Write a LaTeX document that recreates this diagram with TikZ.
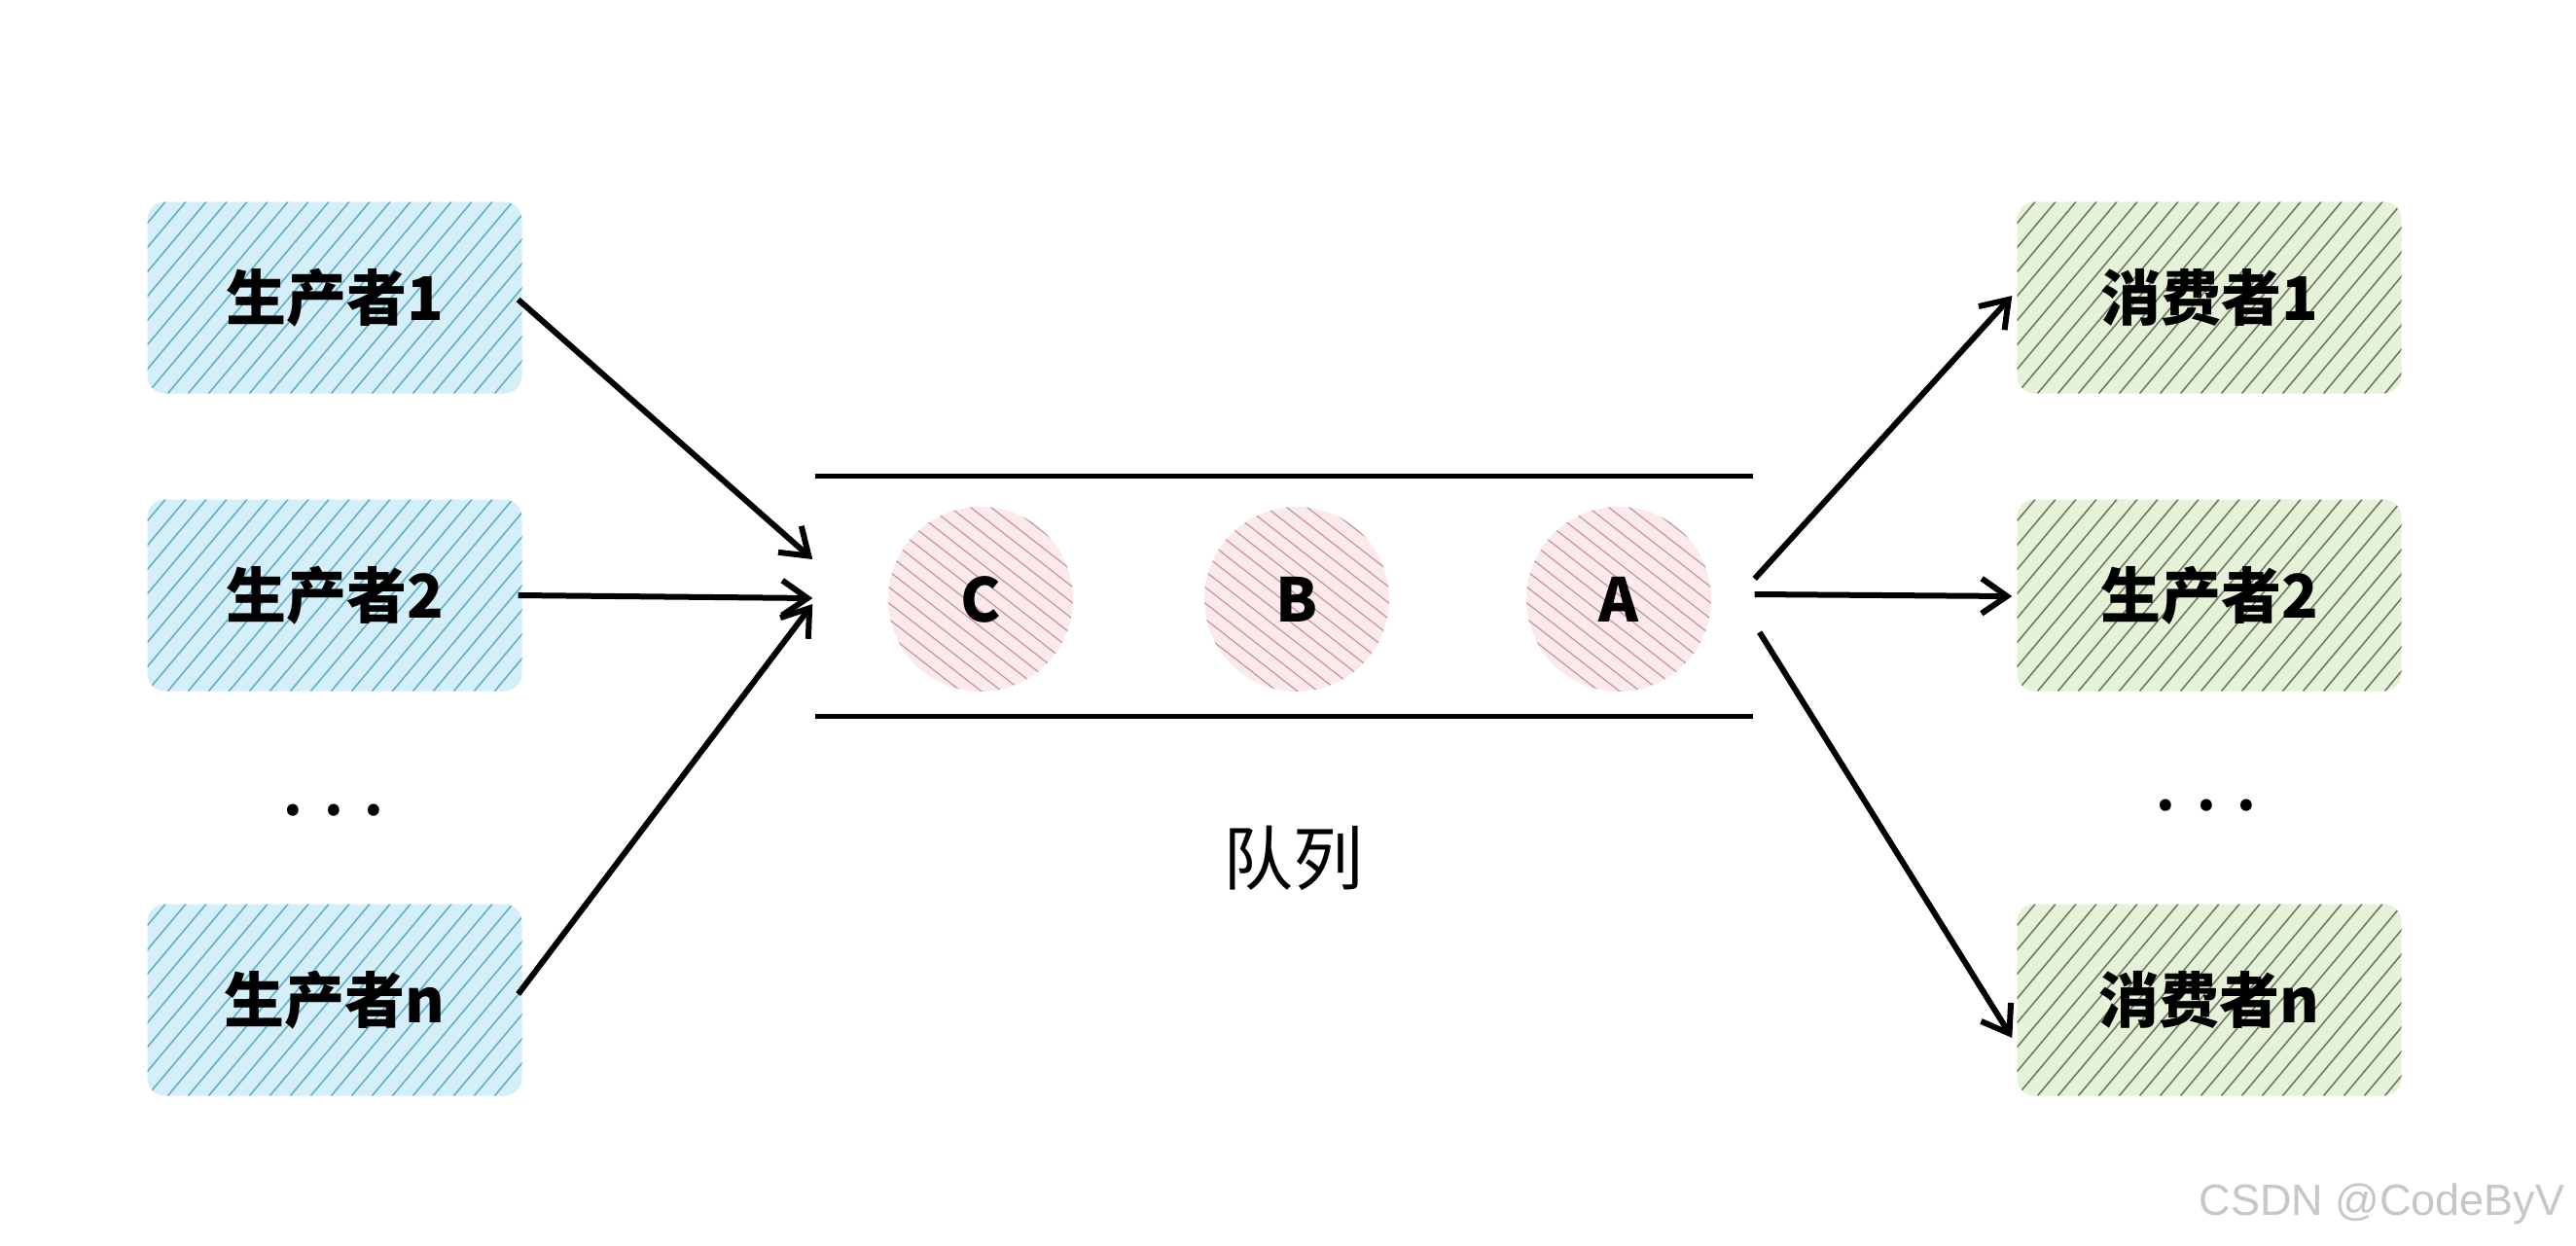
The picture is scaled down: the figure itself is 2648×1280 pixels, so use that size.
\documentclass[tikz,border=0pt]{standalone}
\usepackage{fontspec}
\newfontfamily\cjk{Noto Sans CJK SC}
\newfontfamily\wm{Liberation Sans}
\usetikzlibrary{arrows.meta}
\definecolor{pfill}{HTML}{D4EFF8}
\definecolor{pline}{HTML}{62AECC}
\definecolor{cfill}{HTML}{E6F2D8}
\definecolor{cline}{HTML}{6E7A62}
\definecolor{qfill}{HTML}{FAEAEC}
\definecolor{qline}{HTML}{CC95A4}
\begin{document}
\begin{tikzpicture}[x=1pt,y=-1pt,
  boxhatch/.style={path picture={\foreach \i in {-12,...,20}{\draw[#1,line width=1.6pt] ([xshift=\i*21pt]path picture bounding box.south west) -- ++(220pt,262pt);}}},
  circhatch/.style={path picture={\foreach \i in {-16,...,10}{\draw[#1,line width=1.3pt] ([xshift=\i*21pt]path picture bounding box.north west) -- ++(320pt,-250pt);}}},
  pbox/.style={rectangle, rounded corners=18pt, minimum width=385pt, minimum height=197pt, fill=pfill, boxhatch=pline, font=\cjk\bfseries\fontsize{62pt}{70pt}\selectfont},
  cbox/.style={rectangle, rounded corners=18pt, minimum width=395pt, minimum height=197pt, fill=cfill, boxhatch=cline, font=\cjk\bfseries\fontsize{62pt}{70pt}\selectfont},
  item/.style={circle, minimum size=190pt, fill=qfill, circhatch=qline, font=\cjk\bfseries\fontsize{62pt}{72pt}\selectfont},
  qrule/.style={line width=5pt, black},
  arr/.style={line width=6pt, -{Straight Barb[length=26pt,width=36pt,line width=6pt]}},
  dots/.style={font=\cjk\bfseries\fontsize{56pt}{70pt}\selectfont}
]
\useasboundingbox[fill=white] (0,0) rectangle (2648,1280);

% producers
\node[pbox] (p1) at (344,306) {生产者1};
\node[pbox] (p2) at (344,612) {生产者2};
\node[dots] (pd) at (343,833) {.\hspace{22pt}.\hspace{22pt}.};
\node[pbox] (pn) at (344,1028) {生产者n};

% consumers
\node[cbox] (c1) at (2271,306) {消费者1};
\node[cbox] (c2) at (2271,612) {生产者2};
\node[dots] (cd) at (2268,828) {.\hspace{22pt}.\hspace{22pt}.};
\node[cbox] (cn) at (2271,1028) {消费者n};

% queue
\node[rectangle, minimum width=963pt, minimum height=246pt] (queue) at (1320,613) {};
\draw[qrule] (queue.north west) -- (queue.north east);
\draw[qrule] (queue.south west) -- (queue.south east);
\node[item] (qc) at (1008,616) {C};
\node[item] (qb) at (1333,616) {B};
\node[item] (qa) at (1664,616) {A};
\node[font=\cjk\fontsize{72pt}{80pt}\selectfont] (ql) at (1329,882) {队列};

% arrows in
\draw[arr] ([xshift=-4pt,yshift=-2pt]p1.east) -- ([xshift=-3pt,yshift=38pt]queue.west);
\draw[arr] ([xshift=-4pt]p2.east) -- ([xshift=-3pt,yshift=-2pt]queue.west);
\draw[arr] ([xshift=-4pt,yshift=6pt]pn.east) -- ([xshift=-3pt,yshift=-8pt]queue.west);

% arrows out
\draw[arr] ([xshift=2pt,yshift=18pt]queue.east) -- ([xshift=-5pt,yshift=2pt]c1.west);
\draw[arr] ([xshift=2pt,yshift=2pt]queue.east) -- ([xshift=-5pt,yshift=-1pt]c2.west);
\draw[arr] ([xshift=7pt,yshift=-37pt]queue.east) -- ([xshift=-5pt,yshift=-39pt]cn.west);

% watermark
\node[font=\wm\fontsize{45pt}{50pt}\selectfont, text=black!22, anchor=east] (wm) at (2640,1238) {CSDN @CodeByV};
\end{tikzpicture}
\end{document}
